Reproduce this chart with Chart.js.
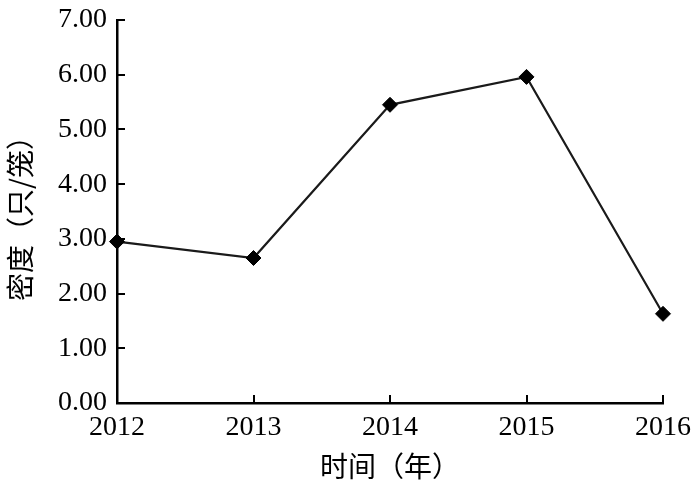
<!DOCTYPE html>
<html>
<head>
<meta charset="utf-8">
<script src="https://cdn.jsdelivr.net/npm/chart.js@4"></script>
<style>
html,body{margin:0;padding:0;background:#fff;}
#wrap{width:700px;height:487px;}
</style>
</head>
<body>
<div id="wrap"><canvas id="c" width="700" height="487"></canvas></div>
<script>
const categories = ['2012', '2013', '2014', '2015', '2016'];
const density = [2.95, 2.65, 5.45, 5.96, 1.63];
const yTicks = [0, 1, 2, 3, 4, 5, 6, 7];
const xTitle = '时间（年）';
const yTitle = '密度（只/笼）';

const serif = '"Liberation Serif", "Times New Roman", serif';
const cjk = '"Noto Sans CJK SC", sans-serif';

const inwardTicks = {
  id: 'inwardTicks',
  afterDraw(chart) {
    const ctx = chart.ctx;
    const xs = chart.scales.x, ys = chart.scales.y;
    const len = 8;
    ctx.save();
    ctx.strokeStyle = '#000';
    ctx.lineWidth = 2;
    ys.ticks.forEach((t, i) => {
      const y = Math.round(ys.getPixelForTick(i));
      ctx.beginPath();
      ctx.moveTo(ys.right, y);
      ctx.lineTo(ys.right + len, y);
      ctx.stroke();
    });
    xs.ticks.forEach((t, i) => {
      const x = Math.round(xs.getPixelForTick(i));
      ctx.beginPath();
      ctx.moveTo(x, xs.top);
      ctx.lineTo(x, xs.top - len);
      ctx.stroke();
    });
    ctx.restore();
  }
};

new Chart(document.getElementById('c'), {
  type: 'line',
  data: {
    labels: categories,
    datasets: [{
      data: density,
      borderColor: '#1a1a1a',
      borderWidth: 2.2,
      pointStyle: 'rectRot',
      pointRadius: 7.5,
      pointBackgroundColor: '#000',
      pointBorderColor: '#000',
      pointBorderWidth: 1,
      tension: 0,
      clip: false
    }]
  },
  options: {
    responsive: false,
    animation: false,
    devicePixelRatio: 1,
    layout: { padding: { top: 20, right: 37, left: 0, bottom: 0 } },
    plugins: { legend: { display: false }, tooltip: { enabled: false } },
    scales: {
      x: {
        offset: false,
        grid: { display: true, drawOnChartArea: false, drawTicks: false },
        border: { display: true, color: '#000', width: 2.5 },
        ticks: { color: '#000', font: { family: serif, size: 28 }, padding: 8, maxRotation: 0 },
        title: { display: true, text: xTitle, color: '#000', font: { family: cjk, size: 28 }, padding: { top: 0, bottom: 4 } },
        afterFit(s) { s.height = 84; s.paddingLeft = 0; s.paddingRight = 0; }
      },
      y: {
        min: 0, max: 7,
        afterBuildTicks(s) { s.ticks = yTicks.map(v => ({ value: v })); },
        grid: { display: true, drawOnChartArea: false, drawTicks: false },
        border: { display: true, color: '#000', width: 2.5 },
        ticks: { color: '#000', font: { family: serif, size: 28 }, padding: 10, callback: v => Number(v).toFixed(2) },
        title: { display: true, text: yTitle, color: '#000', font: { family: cjk, size: 28 }, padding: { top: 4, bottom: 0 } },
        afterFit(s) { s.width = 117; s.paddingTop = 0; s.paddingBottom = 0; }
      }
    }
  },
  plugins: [inwardTicks]
});
</script>
</body>
</html>
